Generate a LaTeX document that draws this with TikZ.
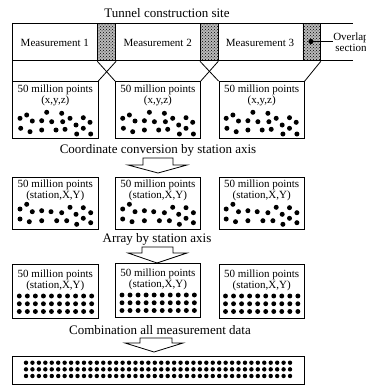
\documentclass[tikz,border=0pt]{standalone}
\usepackage{fontspec}
\setmainfont{Liberation Serif}
\usetikzlibrary{patterns}
\begin{document}
\begin{tikzpicture}[x=1pt,y=-1pt,
  ln/.style={line width=0.8pt},
  box/.style={draw, line width=0.8pt, anchor=north west, inner sep=0pt},
  hatch/.style={draw, line width=0.8pt, preaction={fill=gray!55}, pattern=crosshatch dots, anchor=north west, inner sep=0pt, minimum height=37.5pt},
  caption/.style={font=\fontsize{13}{15}\selectfont, inner sep=0pt},
  lbl/.style={font=\fontsize{11}{11.5}\selectfont, inner sep=0pt, align=center},
  blockarrow/.style={draw, line width=0.8pt, fill=white, line join=miter}
]
\useasboundingbox (0,0) rectangle (366,385);

% title
\node[caption] (title) at (167,13) {Tunnel construction site};

% band
\coordinate (bandTL) at (12.3,23);
\coordinate (bandBL) at (12.3,60.5);
\coordinate (bandTR) at (353,23);
\coordinate (bandBR) at (353,60.5);
\draw[ln] (bandTL) -- (bandTR);
\draw[ln] (bandBL) -- (bandBR);

\node[hatch, minimum width=18pt] (h1) at (97.3,23) {};
\node[hatch, minimum width=17.5pt] (h2) at (200,23) {};
\node[hatch, minimum width=17.5pt] (h3) at (302.5,23) {};

\node[lbl] (m1) at (54.8,42.5) {Measurement 1};
\node[lbl] (m2) at (157.7,42.5) {Measurement 2};
\node[lbl] (m3) at (260,42.5) {Measurement 3};

% overlap annotation
\coordinate (od) at (311,41.5);
\fill (od) circle (2.6pt);
\node[lbl] (ov) at (351,42) {Overlap\\section};
\draw[ln] (od) -- (ov.west |- od);

% row 1 boxes
\node[box, minimum width=85.2pt, minimum height=57pt] (b11) at (12.3,81) {};
\node[box, minimum width=85pt, minimum height=57pt] (b12) at (115,81) {};
\node[box, minimum width=85.5pt, minimum height=57pt] (b13) at (218.5,81) {};

\draw[ln] (bandTL) -- (b11.north west);
\draw[ln] (h1.south west) -- (b12.north west);
\draw[ln] (h1.south east) -- (b11.north east);
\draw[ln] (h2.south west) -- (b13.north west);
\draw[ln] (h2.south east) -- (b12.north east);
\draw[ln] (h3.south east) -- (b13.north east);

\foreach \b in {b11,b12,b13} {
  \node[lbl] at ([yshift=-14.5pt]\b.north) {50 million points\\(x,y,z)};
  \begin{scope}[shift={(\b.north west)}]
    \foreach \x/\y in {7.7/37.3,14.4/34,20/40,29.4/39.7,34.4/31.3,39.4/40.7,49.4/32.3,50.4/40.7,57.7/37.3,63.7/44,71/36.7,77.7/41.3,8.4/47.3,17.7/50.7,29.4/49,43.7/49,52.7/48.3,64.4/53,71/47.3,78.4/53}
      \fill (\x,\y) circle (2.5pt);
  \end{scope}
}

% caption 1 + arrow
\node[caption] (c1) at (158,150) {Coordinate conversion by station axis};
\draw[blockarrow] (143,158) -- (173,158) -- (173,165) -- (187,165) -- (158,173) -- (128,165) -- (143,165) -- cycle;

% row 2 boxes
\node[box, minimum width=85.2pt, minimum height=52.3pt] (b21) at (12.3,176.7) {};
\node[box, minimum width=85pt, minimum height=52.3pt] (b22) at (115,176.7) {};
\node[box, minimum width=85.5pt, minimum height=52.3pt] (b23) at (218.5,176.7) {};
\foreach \b in {b21,b22,b23} {
  \node[lbl] at ([yshift=-13.8pt]\b.north) {50 million points\\(station,X,Y)};
  \begin{scope}[shift={(\b.north west)}]
    \foreach \x/\y in {7.7/32.3,14.4/27.6,20/35,29.4/34,38.7/35,49.4/36,57.7/30.6,63.7/37.6,71/31,78.4/36,7.7/42.3,17/45,29.4/44,44.4/44,54.4/44,64.4/47.6,71/41.6,78.4/46}
      \fill (\x,\y) circle (2.5pt);
  \end{scope}
}

% caption 2 + arrow
\node[caption] (c2) at (157,239) {Array by station axis};
\draw[blockarrow] (142,247) -- (173,247) -- (173,253) -- (187,253) -- (157,263) -- (128,253) -- (142,253) -- cycle;

% row 3 boxes
\node[box, minimum width=85.2pt, minimum height=54pt] (b31) at (12.3,264) {};
\node[box, minimum width=85pt, minimum height=54pt] (b32) at (115,263) {};
\node[box, minimum width=85.5pt, minimum height=54pt] (b33) at (218.5,264) {};
\foreach \b in {b31,b32,b33} {
  \node[lbl] at ([yshift=-16.5pt]\b.north) {50 million points\\(station,X,Y)};
  \begin{scope}[shift={(\b.north west)}]
    \foreach \i in {0,...,9}
      \foreach \j in {0,1,2}
        \fill ({7+8.04*\i},{32+7.75*\j}) circle (2.45pt);
  \end{scope}
}

% caption 3 + arrow
\node[caption] (c3) at (160,330) {Combination all measurement data};
\draw[blockarrow] (140,338) -- (172,338) -- (172,343) -- (183,343) -- (154,352) -- (125,343) -- (140,343) -- cycle;

% final box
\node[box, minimum width=291.7pt, minimum height=27.7pt] (fin) at (12.3,356) {};
\foreach \i in {0,...,41}
  \foreach \j in {0,1,2}
    \fill ({26+6.44*\i},{362.7+6.65*\j}) circle (2.2pt);

\end{tikzpicture}
\end{document}
